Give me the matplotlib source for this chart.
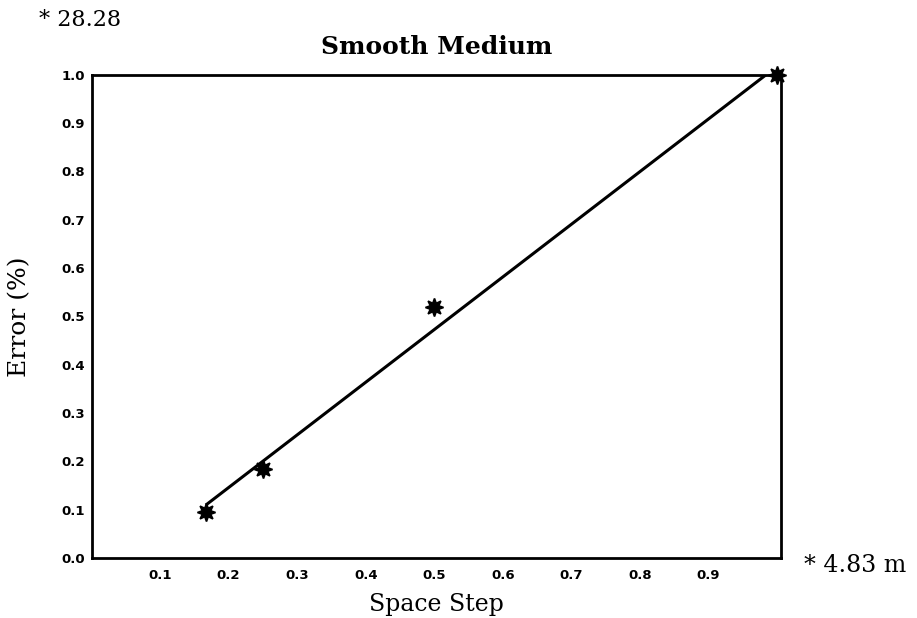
import numpy as np
import matplotlib.pyplot as plt

# space step (relative) and error
space_step = [1 / 6, 0.25, 0.5, 1.0]
error = [0.095, 0.185, 0.52, 1.0]

x_ticks = [0.1, 0.2, 0.3, 0.4, 0.5, 0.6, 0.7, 0.8, 0.9]
y_ticks = [0.0, 0.1, 0.2, 0.3, 0.4, 0.5, 0.6, 0.7, 0.8, 0.9, 1.0]

max_error_label = "* 28.28"
max_step_label = "* 4.83 m"

SERIF = "DejaVu Serif"


def fit_line(x, y):
    """ least squares line through the measured points """
    slope, intercept = np.polyfit(x, y, 1)
    xs = np.array([min(x), max(x)])
    return xs, slope * xs + intercept


fig = plt.figure(figsize=(9.17, 6.18), dpi=100)
ax = fig.add_axes([0.0998, 0.097, 0.752, 0.782])

# fitted line
fx, fy = fit_line(space_step, error)
ax.plot(fx, fy, color="black", linewidth=2.2, solid_capstyle="butt")

# measured points
ax.plot(space_step, error, linestyle="none", marker=(8, 1, 0), markersize=13,
        color="black", markeredgewidth=1.2, clip_on=False)

ax.set_xlim(0, 1.006)
ax.set_ylim(0, 1.0)
ax.set_xticks(x_ticks)
ax.set_yticks(y_ticks)
ax.set_xticklabels(["%.1f" % t for t in x_ticks], fontsize=9.5, fontweight="bold")
ax.set_yticklabels(["%.1f" % t for t in y_ticks], fontsize=9.5, fontweight="bold")
ax.tick_params(axis="x", length=0, pad=8)
ax.tick_params(axis="y", length=0, pad=5)

for s in ax.spines.values():
    s.set_linewidth(2)
    s.set_color("black")

ax.set_title("Smooth Medium", family=SERIF, fontsize=18, fontweight="bold", pad=15)
ax.set_xlabel("Space Step", family=SERIF, fontsize=17, labelpad=8)
ax.set_ylabel("Error (%)", family=SERIF, fontsize=18)
ax.yaxis.set_label_coords(-0.088, 0.5)

fig.text(0.043, 0.967, max_error_label, family=SERIF, fontsize=16, va="center", ha="left")
fig.text(0.877, 0.085, max_step_label, family=SERIF, fontsize=17, va="center", ha="left")

fig.savefig("out.png", dpi=100)
